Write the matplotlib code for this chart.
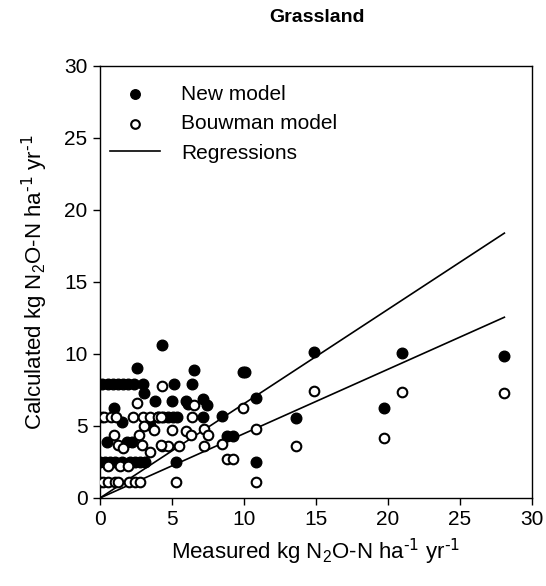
import numpy as np
import matplotlib
matplotlib.use('Agg')
import matplotlib.pyplot as plt

plt.rcParams['font.family'] = ['Liberation Sans', 'DejaVu Sans']
plt.rcParams['mathtext.default'] = 'regular'

# measured vs calculated N2O-N (kg/ha/yr)
new_x = [0.16, 0.58, 0.92, 1.27, 1.62, 1.97, 2.38, 3.0, 5.14, 6.4,
         4.28, 2.55, 6.55, 3.08, 3.82, 4.97, 5.95, 6.13, 7.17, 7.4, 0.99,
         1.55, 4.05, 4.4, 4.74, 5.1, 5.32, 7.17, 8.45, 3.5,
         0.46, 1.85, 2.2,
         0.0, 0.35, 0.69, 1.04, 1.5, 2.08, 2.43, 2.78, 3.13, 5.28,
         8.8, 9.2, 9.9, 10.1, 10.83, 10.83, 13.6, 14.86, 19.75, 21.0, 28.08]
new_y = [7.9, 7.9, 7.9, 7.9, 7.9, 7.9, 7.9, 7.9, 7.9, 7.9,
         10.6, 9.05, 8.9, 7.3, 6.74, 6.74, 6.74, 6.5, 6.85, 6.45, 6.27,
         5.3, 5.6, 5.6, 5.6, 5.6, 5.6, 5.6, 5.7, 5.05,
         3.9, 3.87, 3.87,
         2.5, 2.5, 2.5, 2.5, 2.5, 2.5, 2.5, 2.5, 2.5, 2.5,
         4.33, 4.33, 8.77, 8.77, 6.97, 2.5, 5.57, 10.16, 6.27, 10.05, 9.88]

bouw_x = [0.0, 0.19, 0.58, 1.04, 1.27, 2.03, 2.43, 2.78, 5.28, 10.83,
          0.58, 1.39, 1.97,
          0.12, 0.28, 0.74, 1.11, 2.27, 2.96, 3.47, 4.05, 4.2, 6.4,
          4.28, 2.6, 6.5, 3.05, 3.75, 0.95, 2.7, 4.97, 5.95, 6.3, 7.2, 7.5,
          1.27, 2.93, 4.28, 4.75, 5.5, 7.2, 8.45, 3.47, 1.6, 4.2,
          8.8, 9.2, 9.95, 10.83, 13.6, 14.86, 19.75, 21.0, 28.08]
bouw_y = [1.1, 1.1, 1.1, 1.1, 1.1, 1.1, 1.1, 1.1, 1.1, 1.1,
          2.2, 2.2, 2.2,
          5.6, 5.6, 5.6, 5.6, 5.6, 5.6, 5.6, 5.6, 5.6, 5.6,
          7.8, 6.6, 6.45, 5.0, 4.7, 4.35, 4.37, 4.7, 4.65, 4.37, 4.77, 4.37,
          3.65, 3.65, 3.6, 3.6, 3.6, 3.6, 3.75, 3.17, 3.45, 3.7,
          2.7, 2.7, 6.27, 4.77, 3.63, 7.45, 4.19, 7.38, 7.27]

# regression slopes (through origin)
slope_new = 0.655
slope_bouw = 0.447

fig = plt.figure(figsize=(5.46, 5.86), dpi=100)
ax = fig.add_axes([0.1832, 0.1502, 0.7912, 0.7372])

xr = np.array([0, max(new_x)])
ax.plot(xr, slope_new * xr, color='black', lw=1.2, label='Regressions', zorder=2)
ax.plot(xr, slope_bouw * xr, color='black', lw=1.2, zorder=2)

ax.scatter(new_x, new_y, s=58, color='black', edgecolor='black', linewidth=1.0,
           label='New model', zorder=3)
ax.scatter(bouw_x, bouw_y, s=48, color='white', edgecolor='black', linewidth=1.5,
           label='Bouwman model', zorder=4)

ax.set_xlim(0, 30)
ax.set_ylim(0, 30)
ax.set_xticks(range(0, 31, 5))
ax.set_yticks(range(0, 31, 5))
ax.tick_params(direction='out', length=5, width=1, labelsize=15, pad=4,
               top=False, right=False)
for sp in ax.spines.values():
    sp.set_linewidth(1)

unit = r' kg N$_2$O-N ha$^{\text{-1}}$ yr$^{\text{-1}}$'
ax.set_xlabel('Measured' + unit, fontsize=16, labelpad=5)
ax.set_ylabel('Calculated' + unit, fontsize=16, labelpad=10)
fig.text(0.58, 0.97, 'Grassland', fontsize=14, fontweight='bold',
         ha='center', va='center')

h, l = ax.get_legend_handles_labels()
order = [1, 2, 0]
ax.legend([h[i] for i in order], [l[i] for i in order], loc='upper left',
          bbox_to_anchor=(-0.02, 1.0), frameon=False, fontsize=15,
          handlelength=2.4, handletextpad=1.0, labelspacing=0.5,
          markerscale=0.9)

fig.savefig('out.png', dpi=100)
